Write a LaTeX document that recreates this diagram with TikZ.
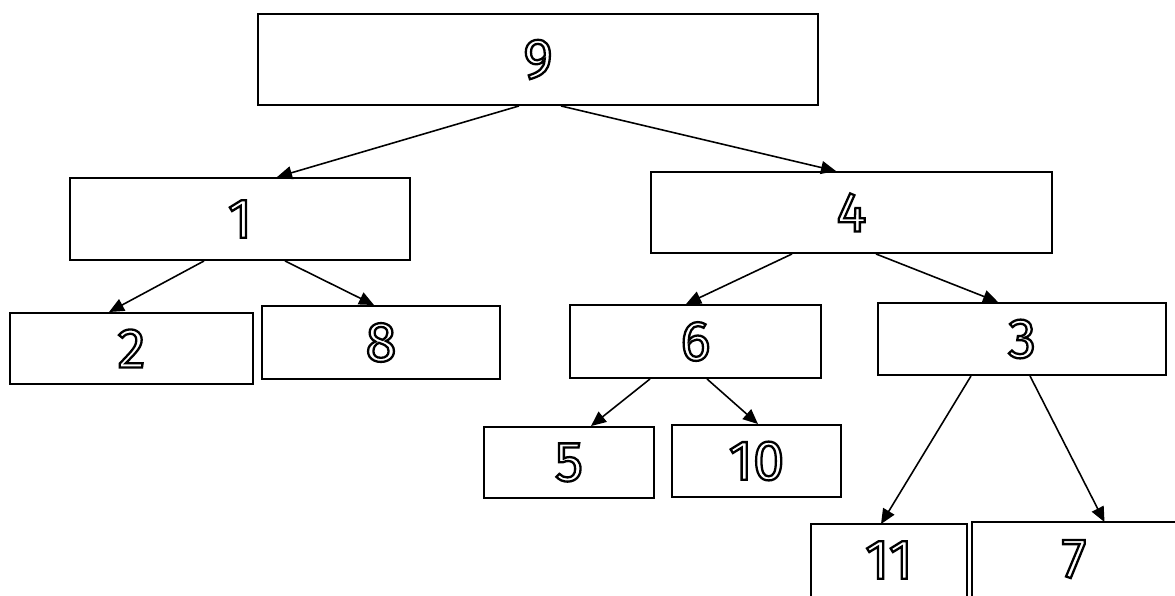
\documentclass[tikz,border=0pt]{standalone}
\usepackage{fontspec}
\setmainfont{Fira Sans}
\usetikzlibrary{arrows.meta,calc}
\newcommand{\outl}[1]{\special{pdf:literal direct 1 Tr 1.3 w}#1\special{pdf:literal direct 0 Tr}}
\begin{document}
\begin{tikzpicture}[x=0.02cm,y=-0.02cm,
  box/.style={draw=black,line width=1.1pt,fill=white,inner sep=0pt,
    font=\fontsize{32}{34}\selectfont},
  openbox/.style={box,draw=none},
  side/.style={line width=1.1pt},
  conn/.style={line width=0.9pt,-{Triangle[length=0.3cm,width=0.26cm]}}]
\useasboundingbox (0,0) rectangle (1175,595);
\node[box,minimum width=560*0.02cm,minimum height=91*0.02cm] (n9) at (538,59.5) {\outl{9}};
\node[box,minimum width=340*0.02cm,minimum height=82*0.02cm] (n1) at (240,219) {\outl{1}};
\node[box,minimum width=401*0.02cm,minimum height=81*0.02cm] (n4) at (851.5,212.5) {\outl{4}};
\node[box,minimum width=243*0.02cm,minimum height=71*0.02cm] (n2) at (131.5,348.5) {\outl{2}};
\node[box,minimum width=238*0.02cm,minimum height=73*0.02cm] (n8) at (381,342.5) {\outl{8}};
\node[box,minimum width=251*0.02cm,minimum height=73*0.02cm] (n6) at (695.5,341.5) {\outl{6}};
\node[box,minimum width=288*0.02cm,minimum height=72*0.02cm] (n3) at (1022,339) {\outl{3}};
\node[box,minimum width=170*0.02cm,minimum height=71*0.02cm] (n5) at (569,462.5) {\outl{5}};
\node[box,minimum width=169*0.02cm,minimum height=72*0.02cm] (n10) at (756.5,461) {\outl{10}};
\node[openbox,minimum width=154*0.02cm,minimum height=70*0.02cm] (n11) at (889,560) {\outl{11}};
\node[openbox,minimum width=202*0.02cm,minimum height=72*0.02cm] (n7) at (1074,559) {\outl{7}};
\draw[side] (n11.south west) -- (n11.north west) -- (n11.north east) -- (n11.south east);
\draw[side] (n7.south west) -- (n7.north west) -- (n7.north east) -- (n7.south east);
\draw[conn] ($(n9.south)+(-19,0)$) -- ($(n1.north)+(37,0)$);
\draw[conn] ($(n9.south)+(23,0)$) -- ($(n4.north)+(-15.5,0)$);
\draw[conn] ($(n1.south)+(-36,0)$) -- ($(n2.north)+(-22.5,0)$);
\draw[conn] ($(n1.south)+(45,0)$) -- ($(n8.north)+(-7,0)$);
\draw[conn] ($(n4.south)+(-59.5,0)$) -- ($(n6.north)+(-9.5,0)$);
\draw[conn] ($(n4.south)+(24.5,0)$) -- ($(n3.north)+(-24,0)$);
\draw[conn] ($(n6.south)+(-45.5,0)$) -- ($(n5.north)+(22,0)$);
\draw[conn] ($(n6.south)+(11.5,0)$) -- ($(n10.north)+(1.5,0)$);
\draw[conn] ($(n3.south)+(-51,0)$) -- ($(n11.north)+(-8,0)$);
\draw[conn] ($(n3.south)+(8,0)$) -- ($(n7.north)+(30.5,0)$);
\end{tikzpicture}
\end{document}
